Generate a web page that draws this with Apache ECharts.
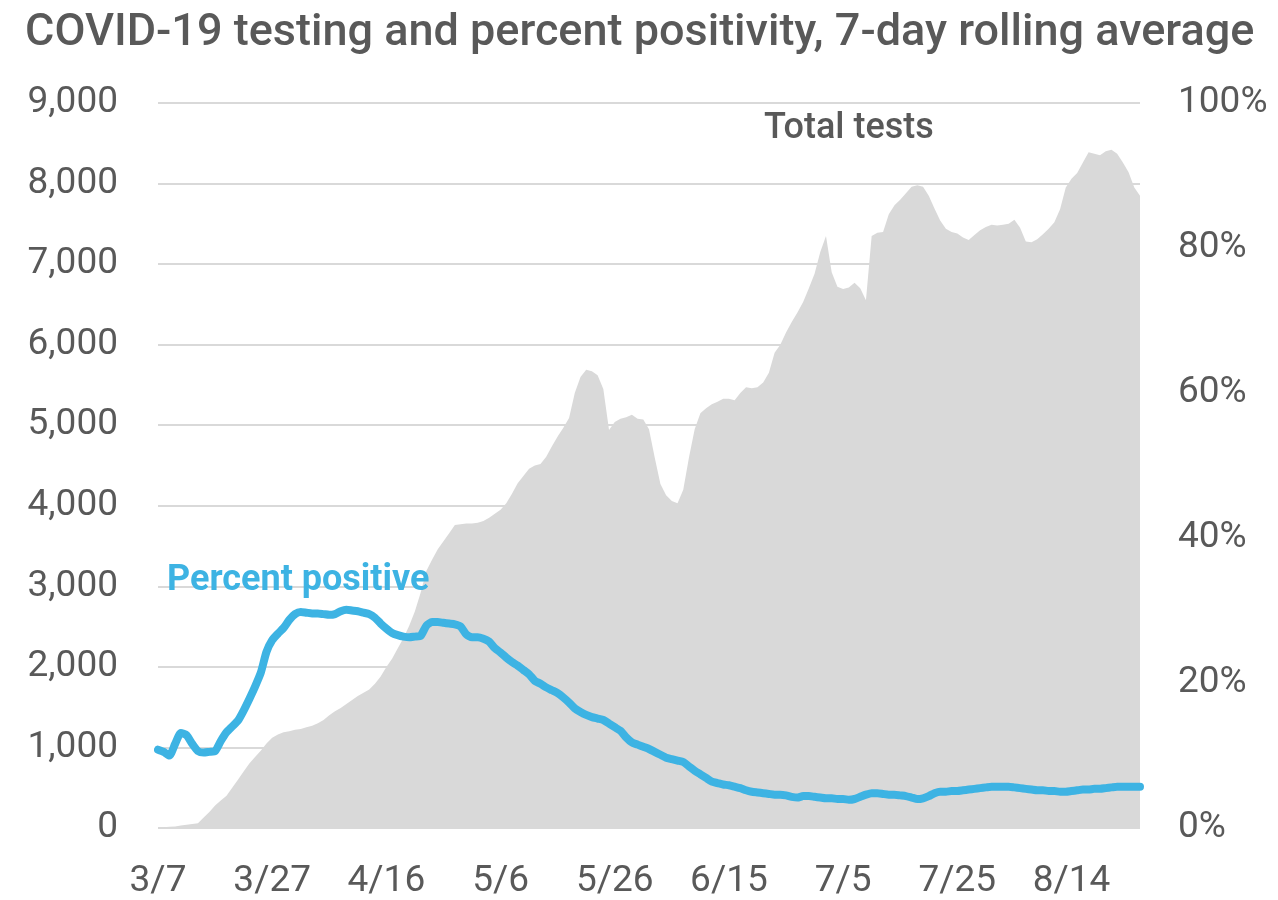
<!DOCTYPE html>
<html>
<head>
<meta charset="utf-8">
<script src="https://cdn.jsdelivr.net/npm/echarts@6/dist/echarts.min.js"></script>
<style>html,body{margin:0;padding:0;background:#fff}#c{width:1278px;height:900px}</style>
</head>
<body>
<div id="c"></div>
<script>
// Start date and number of daily points (3/7 .. 8/26)
const startMonth = 3, startDay = 7, nDays = 173;
const categories = [];
(function(){
  const d = new Date(2020, startMonth - 1, startDay);
  for (let i = 0; i < nDays; i++) {
    categories.push((d.getMonth() + 1) + '/' + d.getDate());
    d.setDate(d.getDate() + 1);
  }
})();

// Total tests, 7-day rolling average (left axis)
const totalTests = [
  10,10,15,20,30,40,50,60,130,200,
  280,340,400,500,600,700,800,880,960,1050,
  1120,1160,1190,1200,1220,1230,1250,1270,1300,1340,
  1400,1450,1490,1540,1590,1640,1680,1720,1790,1880,
  2000,2100,2230,2360,2510,2690,2920,3190,3330,3460,
  3560,3660,3760,3770,3780,3780,3790,3810,3850,3900,
  3950,4030,4150,4280,4370,4460,4500,4520,4610,4740,
  4860,4970,5090,5400,5600,5690,5670,5620,5450,4940,
  5040,5080,5100,5130,5080,5070,4950,4600,4270,4130,
  4060,4030,4200,4600,4950,5150,5210,5260,5290,5330,
  5330,5310,5400,5470,5460,5470,5530,5650,5900,6000,
  6150,6280,6400,6530,6700,6880,7150,7350,6900,6720,
  6690,6710,6770,6700,6550,7350,7390,7400,7620,7730,
  7800,7880,7960,7980,7960,7850,7690,7540,7440,7400,
  7380,7330,7300,7360,7420,7460,7490,7480,7490,7500,
  7550,7450,7280,7270,7310,7370,7440,7520,7680,7950,
  8060,8130,8260,8390,8370,8350,8400,8420,8370,8260,
  8140,7950,7850
];

// Percent positive, 7-day rolling average (right axis, %)
const percentPositive = [
  10.8,10.5,10.0,11.6,13.1,12.8,11.6,10.6,10.4,10.5,
  10.6,12.0,13.2,14.0,14.8,16.2,17.8,19.5,21.4,24.3,
  25.9,26.8,27.6,28.7,29.5,29.8,29.7,29.6,29.6,29.5,
  29.4,29.5,29.9,30.1,30.0,29.9,29.7,29.5,29.0,28.2,
  27.5,26.9,26.6,26.4,26.3,26.4,26.5,27.9,28.4,28.4,
  28.3,28.2,28.1,27.8,26.7,26.3,26.3,26.1,25.7,24.8,
  24.2,23.5,22.9,22.4,21.8,21.2,20.3,19.9,19.4,19.0,
  18.6,18.0,17.3,16.5,16.0,15.6,15.3,15.1,14.9,14.4,
  13.9,13.4,12.5,11.8,11.5,11.2,10.9,10.5,10.1,9.7,
  9.5,9.3,9.1,8.5,7.9,7.4,6.9,6.4,6.2,6.0,
  5.9,5.7,5.5,5.2,5.0,4.9,4.8,4.7,4.6,4.6,
  4.5,4.3,4.2,4.4,4.4,4.3,4.2,4.1,4.1,4.0,
  4.0,3.9,4.0,4.3,4.6,4.8,4.8,4.7,4.6,4.6,
  4.5,4.4,4.2,4.0,4.1,4.4,4.8,5.0,5.0,5.1,
  5.1,5.2,5.3,5.4,5.5,5.6,5.7,5.7,5.7,5.7,
  5.6,5.5,5.4,5.3,5.2,5.2,5.1,5.1,5.0,5.0,
  5.1,5.2,5.3,5.3,5.4,5.4,5.5,5.6,5.7,5.7,
  5.7,5.7,5.7
];

const titleText = 'COVID-19 testing and percent positivity, 7-day rolling average';
const areaLabel = 'Total tests';
const lineLabel = 'Percent positive';

const gray = '#595959';
const blue = '#3db3e3';
const font = 'Roboto, "Noto Sans", sans-serif';

const chart = echarts.init(document.getElementById('c'), null, {renderer: 'canvas'});
chart.setOption({
  animation: false,
  backgroundColor: '#fff',
  title: {
    text: titleText, left: 20, top: 6,
    textStyle: {color: gray, fontSize: 45, fontWeight: 500, fontFamily: font}
  },
  grid: {left: 158, right: 138, top: 103, bottom: 72},
  xAxis: {
    type: 'category', data: categories, boundaryGap: false,
    axisLine: {show: false}, axisTick: {show: false},
    axisLabel: {interval: 19, color: gray, fontSize: 37, fontFamily: font, margin: 35}
  },
  yAxis: [
    {
      type: 'value', min: 0, max: 9000, interval: 1000,
      axisLine: {show: false}, axisTick: {show: false},
      axisLabel: {color: gray, fontSize: 37, fontFamily: font, margin: 40,
        formatter: v => v.toLocaleString('en-US')},
      splitLine: {lineStyle: {color: '#d9d9d9', width: 2}}
    },
    {
      type: 'value', min: 0, max: 100, interval: 20,
      axisLine: {show: false}, axisTick: {show: false},
      axisLabel: {color: gray, fontSize: 37, fontFamily: font, margin: 38, formatter: '{value}%'},
      splitLine: {show: false}
    }
  ],
  series: [
    {
      name: areaLabel, type: 'line', yAxisIndex: 0, data: totalTests,
      symbol: 'none', lineStyle: {width: 0}, itemStyle: {color: '#d9d9d9'},
      areaStyle: {color: '#d9d9d9', opacity: 1}, z: 2
    },
    {
      name: lineLabel, type: 'line', yAxisIndex: 1, data: percentPositive,
      symbol: 'none', smooth: 0.2, lineStyle: {width: 8, color: blue, cap: 'round', join: 'round'},
      itemStyle: {color: blue}, z: 3
    }
  ],
  graphic: [
    {type: 'text', left: 764, top: 111, z: 10,
     style: {text: areaLabel, fill: gray, fontSize: 36, fontWeight: 500, fontFamily: font}},
    {type: 'text', left: 167, top: 563, z: 10,
     style: {text: lineLabel, fill: blue, fontSize: 36, fontWeight: 'bold', fontFamily: font}}
  ]
});
</script>
</body>
</html>
